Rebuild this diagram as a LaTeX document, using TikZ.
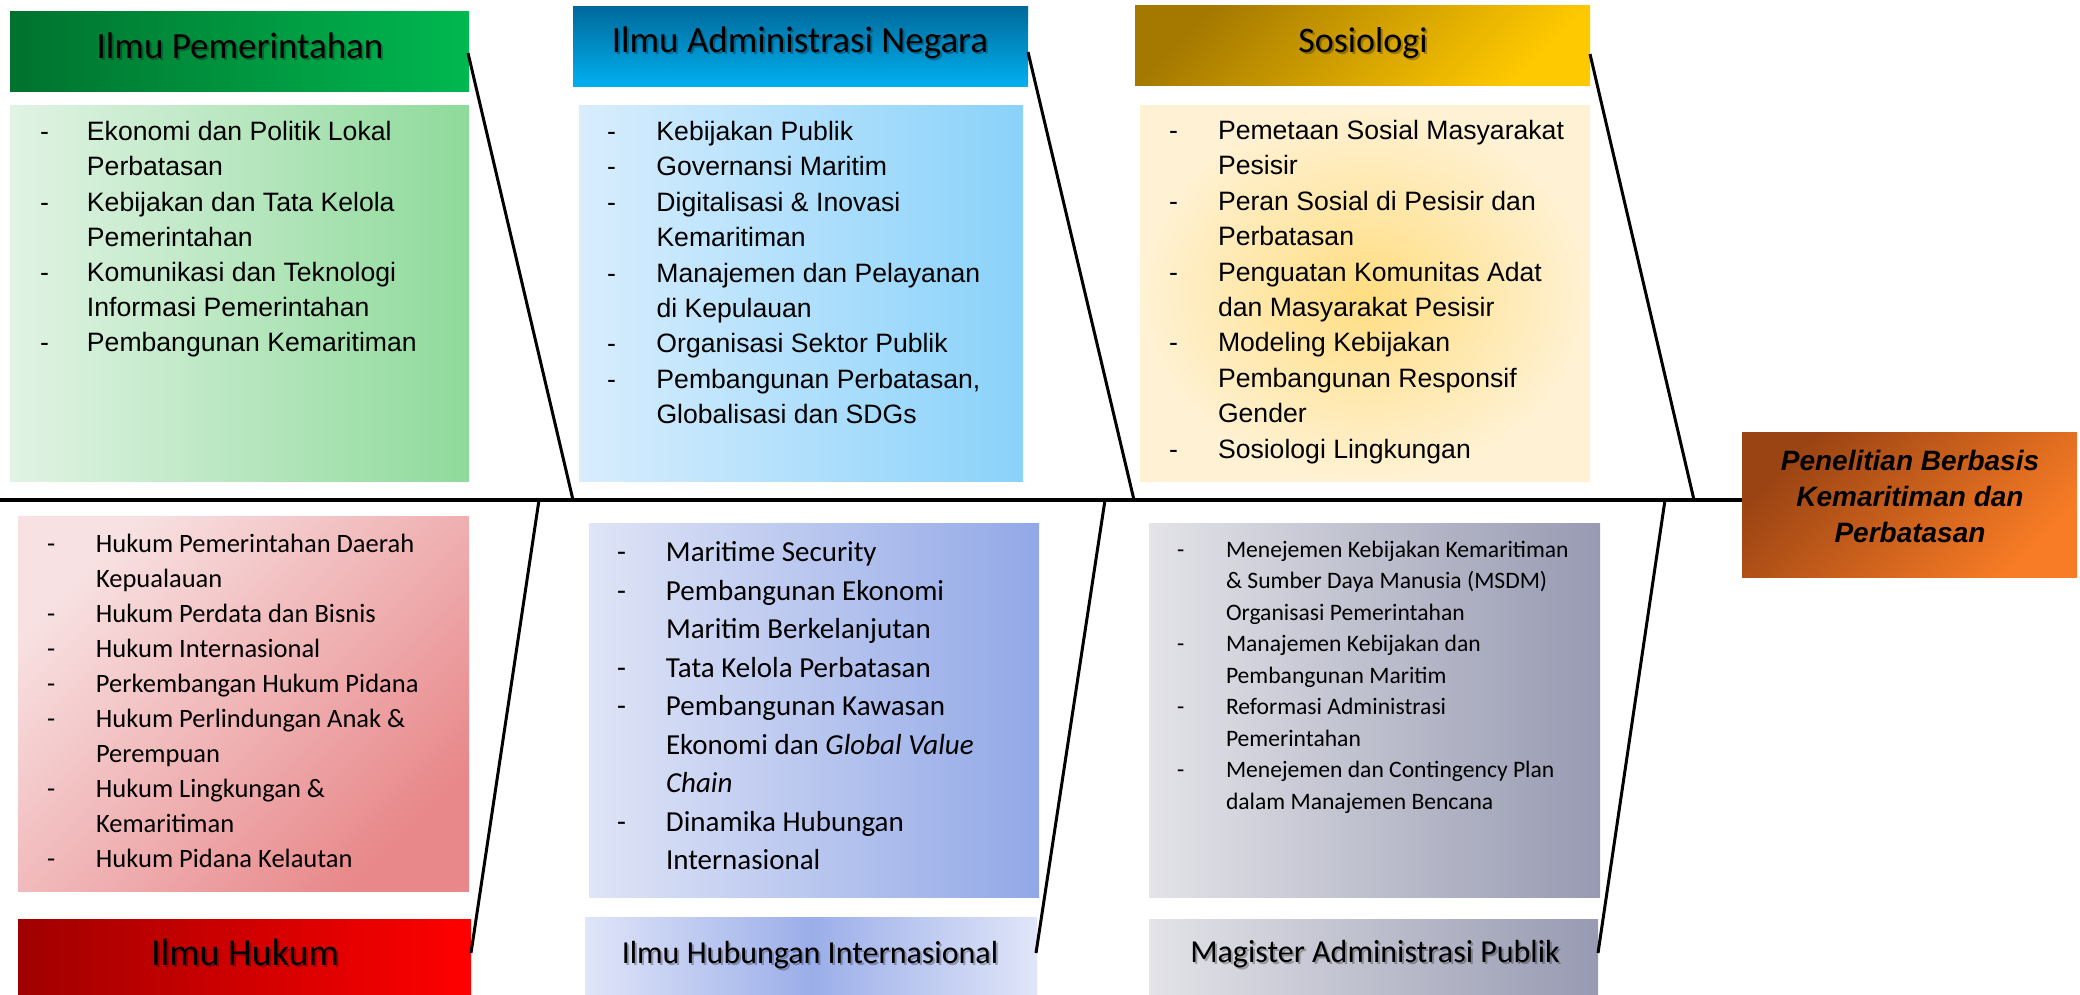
\documentclass[tikz,border=0pt]{standalone}
\usepackage{fontspec}
\newfontfamily\arialf{Liberation Sans}
\newfontfamily\calib{Carlito}
\usetikzlibrary{calc}
\definecolor{gHa}{HTML}{00722E}\definecolor{gHb}{HTML}{00B850}
\definecolor{gBa}{HTML}{E1F3E4}\definecolor{gBb}{HTML}{8FDA9B}
\definecolor{bHa}{HTML}{00699B}\definecolor{bHb}{HTML}{00B1F0}
\definecolor{bBa}{HTML}{D8EDFD}\definecolor{bBb}{HTML}{8AD2FA}
\definecolor{yHa}{HTML}{A57900}\definecolor{yHb}{HTML}{FFC900}
\definecolor{yBa}{HTML}{FFDD82}\definecolor{yBb}{HTML}{FFF2D4}
\definecolor{oHa}{HTML}{9A4313}\definecolor{oHb}{HTML}{F87C25}
\definecolor{rBa}{HTML}{F8E1E2}\definecolor{rBb}{HTML}{E8888A}
\definecolor{rHa}{HTML}{A00000}\definecolor{rHb}{HTML}{FF0000}
\definecolor{lBa}{HTML}{DFE4F6}\definecolor{lBb}{HTML}{92A8E7}
\definecolor{lHa}{HTML}{9BAEE9}\definecolor{lHb}{HTML}{E0E5F8}
\definecolor{sBa}{HTML}{E3E3E8}\definecolor{sBb}{HTML}{979AB2}
\begin{document}
\begin{tikzpicture}[x=1pt,y=-1pt,
  box/.style={rectangle,inner sep=0pt,outer sep=0pt,anchor=north west,draw=none},
  hdr/.style={inner sep=0pt,anchor=base,font=\calib\fontsize{#1}{#1}\selectfont},
  hdrsh/.style={inner sep=0pt,anchor=base,text=black,opacity=0.28,font=\calib\fontsize{#1}{#1}\selectfont},
  lst/.style={inner sep=0pt,outer sep=0pt,anchor=base west},
  bone/.style={line width=3pt,black},
  spine/.style={line width=4.5pt,black}]
\useasboundingbox (0,0) rectangle (2080,995);

% ---------- top row ----------
\node[box,minimum width=459pt,minimum height=80pt,left color=gHa,right color=gHb] (hG) at (10,12) {};
\node[box,minimum width=459pt,minimum height=375pt,left color=gBa,right color=gBb] (bG) at (10,106) {};
\node[box,minimum width=455pt,minimum height=80pt,top color=bHa,bottom color=bHb] (hB) at (573,7) {};
\node[box,minimum width=444pt,minimum height=375pt,left color=bBa,right color=bBb] (bB) at (579,106) {};
\node[box,minimum width=455pt,minimum height=80pt,top color=yHa,bottom color=yHb,shading angle=45] (hS) at (1135,6) {};
\node[box,minimum width=450pt,minimum height=375pt,inner color=yBa,outer color=yBb] (bS) at (1140,106) {};

% ---------- bottom row ----------
\node[box,minimum width=451pt,minimum height=375pt,top color=rBa,bottom color=rBb,shading angle=45] (bH) at (18,516) {};
\node[box,minimum width=453pt,minimum height=76pt,left color=rHa,right color=rHb] (hH) at (18,919) {};
\node[box,minimum width=450pt,minimum height=374pt,left color=lBa,right color=lBb] (bI) at (589,523) {};
\node[box,minimum width=452pt,minimum height=78pt,left color=lHb,right color=lHb,middle color=lHa] (hI) at (585,917) {};
\node[box,minimum width=451pt,minimum height=374pt,left color=sBa,right color=sBb] (bM) at (1149,523) {};
\node[box,minimum width=449pt,minimum height=76pt,left color=sBa,right color=sBb] (hM) at (1149,919) {};

% ---------- head ----------
\node[box,minimum width=335pt,minimum height=145pt,top color=oHa,bottom color=oHb,shading angle=45] (head) at (1742,432) {};
\node[inner sep=0pt,anchor=base,font=\arialf\bfseries\itshape\fontsize{28}{36}\selectfont] (headtxt) at (1910,470)
  {\begin{tabular}[t]{@{}c@{}}Penelitian Berbasis\\Kemaritiman dan\\Perbatasan\end{tabular}};

% ---------- header texts ----------
\node[hdrsh=37] (tGs) at (242,61) {Ilmu Pemerintahan};
\node[hdr=37] (tG) at (240,59) {Ilmu Pemerintahan};
\node[hdrsh=37] (tBs) at (802,55) {Ilmu Administrasi Negara};
\node[hdr=37] (tB) at (800,53) {Ilmu Administrasi Negara};
\node[hdrsh=36] (tSs) at (1365,55) {Sosiologi};
\node[hdr=36] (tS) at (1363,53) {Sosiologi};
\node[hdrsh=38] (tHs) at (247,967) {Ilmu Hukum};
\node[hdr=38] (tH) at (245,965) {Ilmu Hukum};
\node[hdrsh=32] (tIs) at (812,965) {Ilmu Hubungan Internasional};
\node[hdr=32] (tI) at (810,963) {Ilmu Hubungan Internasional};
\node[hdrsh=32] (tMs) at (1377,964) {Magister Administrasi Publik};
\node[hdr=32] (tM) at (1375,962) {Magister Administrasi Publik};

% ---------- lists ----------
\node[lst,font=\arialf\fontsize{26.6}{35.2}\selectfont] (lG) at (40,140.7) {\begin{tabular}[t]{@{}p{47pt}@{}l@{}}
- & Ekonomi dan Politik Lokal\\
  & Perbatasan\\
- & Kebijakan dan Tata Kelola\\
  & Pemerintahan\\
- & Komunikasi dan Teknologi\\
  & Informasi Pemerintahan\\
- & Pembangunan Kemaritiman
\end{tabular}};

\node[lst,font=\arialf\fontsize{26.6}{35.4}\selectfont] (lB) at (607,140.5) {\begin{tabular}[t]{@{}p{49.5pt}@{}l@{}}
- & Kebijakan Publik\\
- & Governansi Maritim\\
- & Digitalisasi \& Inovasi\\
  & Kemaritiman\\
- & Manajemen dan Pelayanan\\
  & di Kepulauan\\
- & Organisasi Sektor Publik\\
- & Pembangunan Perbatasan,\\
  & Globalisasi dan SDGs
\end{tabular}};

\node[lst,font=\arialf\fontsize{26.6}{35.4}\selectfont] (lS) at (1169,139.5) {\begin{tabular}[t]{@{}p{49pt}@{}l@{}}
- & Pemetaan Sosial Masyarakat\\
  & Pesisir\\
- & Peran Sosial di Pesisir dan\\
  & Perbatasan\\
- & Penguatan Komunitas Adat\\
  & dan Masyarakat Pesisir\\
- & Modeling Kebijakan\\
  & Pembangunan Responsif\\
  & Gender\\
- & Sosiologi Lingkungan
\end{tabular}};

\node[lst,font=\calib\fontsize{26.5}{35.1}\selectfont] (lH) at (47,552) {\begin{tabular}[t]{@{}p{49pt}@{}l@{}}
- & Hukum Pemerintahan Daerah\\
  & Kepualauan\\
- & Hukum Perdata dan Bisnis\\
- & Hukum Internasional\\
- & Perkembangan Hukum Pidana\\
- & Hukum Perlindungan Anak \&\\
  & Perempuan\\
- & Hukum Lingkungan \&\\
  & Kemaritiman\\
- & Hukum Pidana Kelautan
\end{tabular}};

\node[lst,font=\calib\fontsize{29}{38.5}\selectfont] (lI) at (617,561.5) {\begin{tabular}[t]{@{}p{49pt}@{}l@{}}
- & Maritime Security\\
- & Pembangunan Ekonomi\\
  & Maritim Berkelanjutan\\
- & Tata Kelola Perbatasan\\
- & Pembangunan Kawasan\\
  & Ekonomi dan \textit{Global Value}\\
  & \textit{Chain}\\
- & Dinamika Hubungan\\
  & Internasional
\end{tabular}};

\node[lst,font=\calib\fontsize{23.6}{31.5}\selectfont] (lM) at (1177,557) {\begin{tabular}[t]{@{}p{49pt}@{}l@{}}
- & Menejemen Kebijakan Kemaritiman\\
  & \& Sumber Daya Manusia (MSDM)\\
  & Organisasi Pemerintahan\\
- & Manajemen Kebijakan dan\\
  & Pembangunan Maritim\\
- & Reformasi Administrasi\\
  & Pemerintahan\\
- & Menejemen dan Contingency Plan\\
  & dalam Manajemen Bencana
\end{tabular}};

% ---------- fishbone ----------
\coordinate (spL) at (0,500);
\coordinate (t1a) at (468,53);   \coordinate (t1b) at (573,500);
\coordinate (t2a) at (1028,52);  \coordinate (t2b) at (1134,500);
\coordinate (t3a) at (1590,54);  \coordinate (t3b) at (1694,500);
\coordinate (u1a) at (539,500);  \coordinate (u1b) at (471,953);
\coordinate (u2a) at (1105,500); \coordinate (u2b) at (1036,953);
\coordinate (u3a) at (1665,500); \coordinate (u3b) at (1598,953);
\draw[spine] (spL) -- (spL -| head.west);
\draw[bone] (t1a) -- (t1b);
\draw[bone] (t2a) -- (t2b);
\draw[bone] (t3a) -- (t3b);
\draw[bone] (u1a) -- (u1b);
\draw[bone] (u2a) -- (u2b);
\draw[bone] (u3a) -- (u3b);
\end{tikzpicture}
\end{document}
